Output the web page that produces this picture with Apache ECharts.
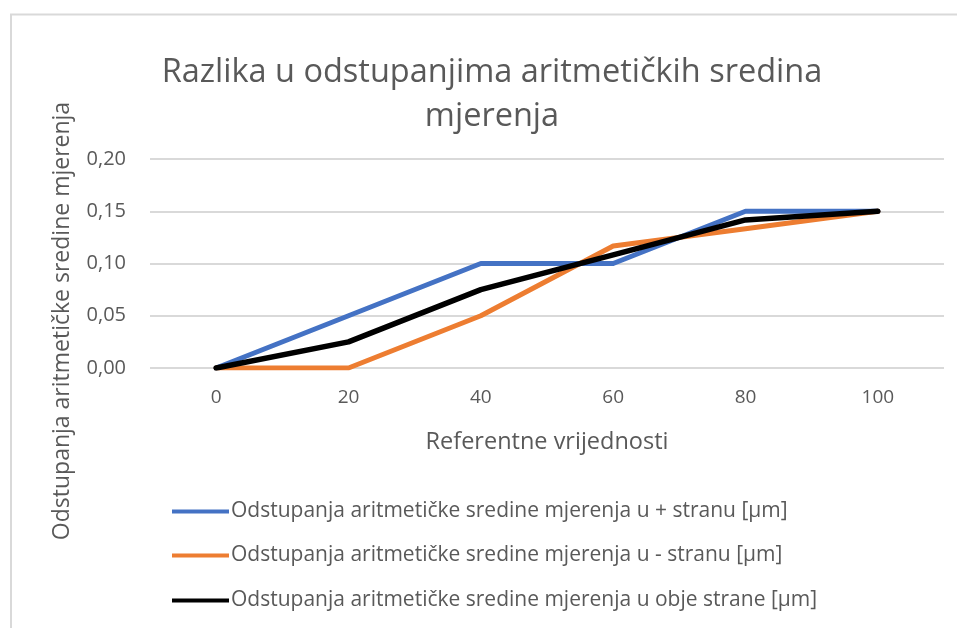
<!DOCTYPE html>
<html>
<head>
<meta charset="utf-8">
<script src="https://cdn.jsdelivr.net/npm/echarts@6/dist/echarts.min.js"></script>
<style>
  html, body { margin: 0; padding: 0; background: #ffffff; }
  #chart { width: 957px; height: 628px; }
</style>
</head>
<body>
<div id="chart"></div>
<script>
// Reference values (x) and mean deviations in µm for each series
const categories = ['0', '20', '40', '60', '80', '100'];
const plusSide  = [0, 0.05, 0.10, 0.10, 0.15, 0.15];
const minusSide = [0, 0, 0.05, 0.1167, 0.1333, 0.15];
const bothSides = [0, 0.025, 0.075, 0.1083, 0.1417, 0.15];
const yTicks = { min: 0, max: 0.2, interval: 0.05 };

const seriesNames = [
  'Odstupanja aritmetičke sredine mjerenja u + stranu [µm]',
  'Odstupanja aritmetičke sredine mjerenja u - stranu [µm]',
  'Odstupanja aritmetičke sredine mjerenja u obje strane [µm]'
];
const colors = ['#4472c4', '#ed7d31', '#000000'];

const FONT = '"Open Sans", "Noto Sans", sans-serif';
const TEXT = '#595959';

function legendAt(name, top) {
  return {
    data: [name],
    left: 172,
    top: top,
    padding: 0,
    orient: 'vertical',
    icon: 'path://M0,0 L60,0 L60,4 L0,4 Z',
    itemWidth: 57,
    itemHeight: 5,
    itemGap: 0,
    textStyle: { color: TEXT, fontSize: 21, fontFamily: FONT, padding: [0, 0, 0, -3] }
  };
}

const chart = echarts.init(document.getElementById('chart'), null, { renderer: 'canvas' });
chart.setOption({
  backgroundColor: '#ffffff',
  animation: false,
  textStyle: { fontFamily: FONT },
  title: {
    text: 'Razlika u odstupanjima aritmetičkih sredina\nmjerenja',
    left: 492,
    top: 51,
    padding: 0,
    textAlign: 'center',
    textStyle: { color: TEXT, fontSize: 32.5, fontWeight: 'normal', fontFamily: FONT, lineHeight: 44, align: 'center' }
  },
  legend: [
    legendAt(seriesNames[0], 501),
    legendAt(seriesNames[1], 545),
    legendAt(seriesNames[2], 590)
  ],
  grid: { left: 150, right: 13, top: 159, height: 209, containLabel: false },
  xAxis: {
    type: 'category',
    data: categories,
    boundaryGap: true,
    axisLine: { show: false },
    axisTick: { show: false },
    axisLabel: { color: TEXT, fontSize: 19, fontFamily: FONT, margin: 20 },
    name: 'Referentne vrijednosti',
    nameLocation: 'middle',
    nameGap: 62,
    nameTextStyle: { color: TEXT, fontSize: 23.5, fontFamily: FONT }
  },
  yAxis: {
    type: 'value',
    min: yTicks.min,
    max: yTicks.max,
    interval: yTicks.interval,
    axisLine: { show: false },
    axisTick: { show: false },
    splitLine: { lineStyle: { color: '#d9d9d9', width: 2 } },
    axisLabel: {
      color: TEXT, fontSize: 20, fontFamily: FONT, margin: 24,
      formatter: v => v.toFixed(2).replace('.', ',')
    }
  },
  graphic: [
    {
      type: 'rect',
      shape: { x: 11, y: 14.5, width: 1200, height: 1200 },
      style: { fill: 'none', stroke: '#d9d9d9', lineWidth: 2 },
      silent: true
    },
    {
      type: 'text',
      x: 62,
      y: 321,
      rotation: Math.PI / 2,
      style: {
        text: 'Odstupanja aritmetičke sredine mjerenja',
        fill: TEXT,
        font: '23px ' + FONT,
        align: 'center',
        verticalAlign: 'middle'
      }
    }
  ],
  series: [
    { name: seriesNames[0], data: plusSide, color: colors[0] },
    { name: seriesNames[1], data: minusSide, color: colors[1] },
    { name: seriesNames[2], data: bothSides, color: colors[2] }
  ].map((s, i) => ({
    type: 'line',
    name: s.name,
    data: s.data,
    showSymbol: false,
    symbol: 'none',
    itemStyle: { color: s.color },
    lineStyle: { color: s.color, width: i === 2 ? 5.5 : 5, cap: 'round', join: 'round' },
    z: 2 + i
  }))
});
</script>
</body>
</html>
